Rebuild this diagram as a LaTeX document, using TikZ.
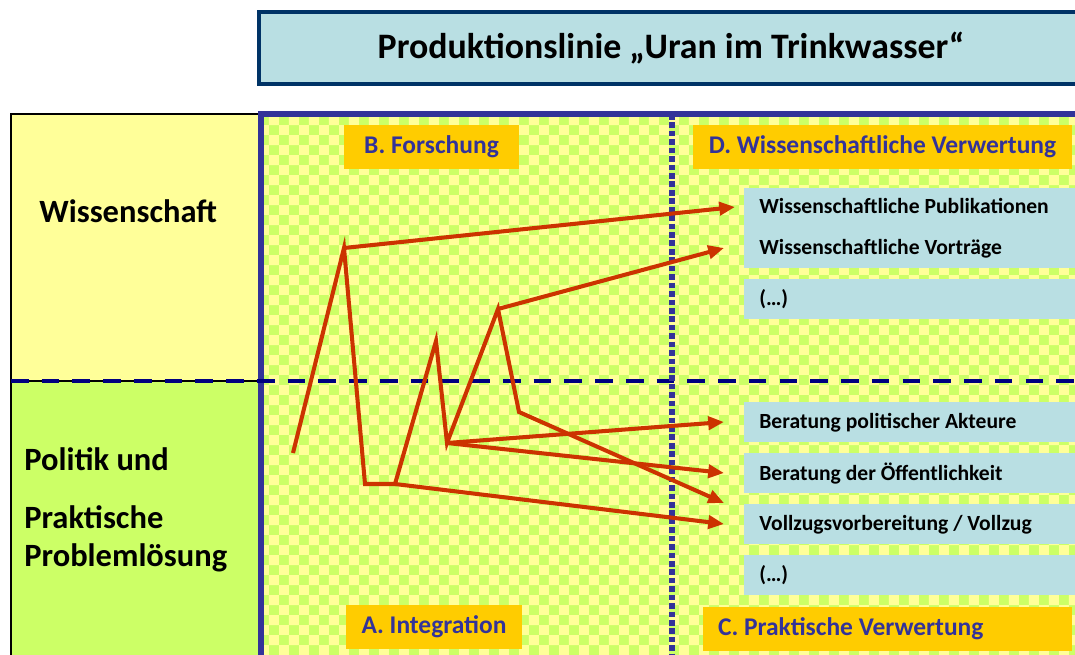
\documentclass[tikz,border=0pt]{standalone}
\usepackage{fontspec}
\setmainfont{Carlito}
\usetikzlibrary{positioning,calc,arrows.meta,patterns}
\definecolor{titlefill}{HTML}{B9DFE3}
\definecolor{titleline}{HTML}{003366}
\definecolor{frameblue}{HTML}{333399}
\definecolor{navy}{HTML}{000080}
\definecolor{flowred}{HTML}{CC3300}
\definecolor{tagorange}{HTML}{FFCC00}
\definecolor{sciyellow}{HTML}{FFFF99}
\definecolor{polgreen}{HTML}{CCFF66}
\newcommand{\plainspaces}{\spaceskip=0pt\xspaceskip=0pt\relax}
\tikzstyle{title} = [draw=titleline, line width=2.3pt, fill=titlefill, minimum width=16.5cm, minimum height=1.44cm, font=\fontsize{20.4}{24}\selectfont\bfseries]
\tikzstyle{phase} = [fill=tagorange, text=frameblue, minimum height=0.88cm, inner sep=0pt, font=\fontsize{14.5}{16}\selectfont\bfseries]
\tikzstyle{entry} = [fill=titlefill, anchor=north west, text width=6.6cm, align=left, inner xsep=0.3cm, inner ysep=0pt, minimum height=0.8cm, font=\fontsize{12.3}{14}\selectfont\bfseries]
\tikzstyle{rowlabel} = [anchor=base west, inner sep=0pt, font=\fontsize{18.5}{20}\selectfont\bfseries]
\tikzstyle{flow} = [draw=flowred, line width=2.3pt]
\tikzstyle{edge} = [flow, -{Triangle[length=9pt,width=7.5pt]}]

\begin{document}
\begin{tikzpicture}[x=0.02cm, y=-0.02cm, execute at begin node=\plainspaces]
	\useasboundingbox (0,0) rectangle (1075,655);
	\clip (0,0) rectangle (1075,655);

	\node[title] (title) at ( 671, 48 ) {Produktionslinie „Uran im Trinkwasser“};

	\fill[sciyellow] (11,114) rectangle (261,381);
	\fill[polgreen] (11,381) rectangle (261,700);
	\draw[line width=1.7pt] (11,700) -- (11,114) -- (261,114);
	\draw[line width=1.2pt] (11,381) -- (261,381);
	\fill[polgreen] (261,114) rectangle (1100,700);
	\fill[pattern=checkerboard, pattern color=sciyellow] (261,114) rectangle (1100,700);
	\draw[frameblue, line width=3.4pt] (261,700) -- (261,114) -- (1100,114);
	\draw[navy, line width=2.8pt, dash pattern=on 10pt off 7.5pt] (11,381) -- (1100,381);
	\draw[frameblue, line width=3.2pt, dash pattern=on 3.2pt off 1.6pt] (672,114) -- (672,700);

	\node[rowlabel] (sci) at ( 39, 223 ) {Wissenschaft};
	\node[rowlabel] (pol1) at ( 24, 470 ) {Politik und};
	\node[rowlabel] (pol2) at ( 24, 528 ) {Praktische};
	\node[rowlabel] (pol3) at ( 24, 566 ) {Problemlösung};

	\node[phase, minimum width=3.5cm] (B) at ( 431.5, 147 ) {B. Forschung};
	\node[phase, minimum width=7.58cm] (D) at ( 882.5, 147 ) {D. Wissenschaftliche Verwertung};
	\node[phase, minimum width=3.52cm] (A) at ( 434, 627 ) {A. Integration};
	\node[phase, text width=6.78cm, align=left, inner xsep=0.3cm] (C) at ( 887.5, 628.5 ) {C. Praktische Verwertung};

	\node[entry, minimum height=1.6cm, font=\fontsize{12.3}{23.2}\selectfont\bfseries] (pub) at ( 744, 188 ) {Wissenschaftliche Publikationen\\Wissenschaftliche Vorträge};
	\node[entry] (more1) at ( 744, 279 ) {(…)};
	\node[entry] (akt) at ( 744, 402 ) {Beratung politischer Akteure};
	\node[entry] (oef) at ( 744, 453 ) {Beratung der Öffentlichkeit};
	\node[entry] (vol) at ( 744, 504 ) {Vollzugsvorbereitung / Vollzug};
	\node[entry] (more2) at ( 744, 555 ) {(…)};

	\coordinate (s) at ( 293, 453 );
	\coordinate (p1) at ( 344, 248 );
	\coordinate (b1) at ( 365, 484 );
	\coordinate (b2) at ( 395, 484 );
	\coordinate (p2) at ( 436, 341 );
	\coordinate (v) at ( 447, 443 );
	\coordinate (p3) at ( 498, 309 );
	\coordinate (k) at ( 519, 412 );
	\coordinate (to-pub) at ( 735, 207 );
	\coordinate (to-vor) at ( 724, 248 );
	\coordinate (to-akt) at ( 724, 422 );
	\coordinate (to-oef) at ( 724, 473 );
	\coordinate (to-oef2) at ( 724, 503 );
	\coordinate (to-vol) at ( 724, 524 );

	\draw[edge] (s) -- (p1) -- (b1) -- (b2) -- (p2) -- (v) -- (p3) -- (k) -- (to-oef2);
	\draw[edge] (p1) -- (to-pub);
	\draw[edge] (p3) -- (to-vor);
	\draw[edge] (v) -- (to-akt);
	\draw[edge] (v) -- (to-oef);
	\draw[edge] (b2) -- (to-vol);
\end{tikzpicture}
\end{document}
